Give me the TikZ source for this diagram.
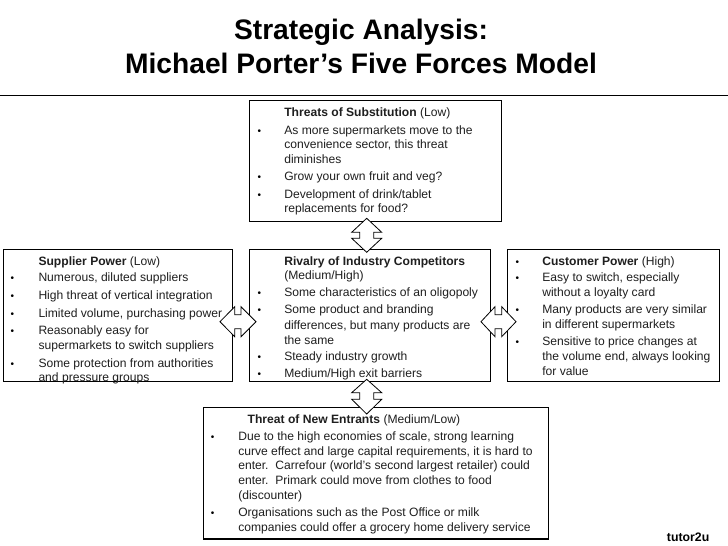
\documentclass[tikz,border=0pt]{standalone}
\usepackage{fontspec}
\setmainfont{Liberation Sans}
\newcounter{tlc}
\newcommand{\tl}[3]{\stepcounter{tlc}\node[txt] (t\arabic{tlc}) at (#1,#2) {#3};}
\newcommand{\bl}[2]{\stepcounter{tlc}\node[bul] (t\arabic{tlc}) at (#1,#2) {•};}
\tikzset{
  x=1pt,y=-1pt,
  box/.style={draw=black,line width=1.1pt,fill=white,inner sep=0pt,outer sep=0pt},
  txt/.style={anchor=base west,inner sep=0pt,outer sep=0pt,text=black!88,font=\fontsize{12.1}{14}\selectfont},
  bul/.style={anchor=base,inner sep=0pt,outer sep=0pt,text=black,font=\fontsize{10}{12}\selectfont},
  ttl/.style={anchor=base,inner sep=0pt,outer sep=0pt,text=black,font=\fontsize{28.2}{30}\selectfont\bfseries},
  blockarrow/.style={draw=black,line width=0.8pt,fill=white,line join=miter},
  rulestyle/.style={draw=black,line width=1.1pt}
}
\newcommand{\boxat}[5]{\node[box,minimum width=#4-#2,minimum height=#5-#3,anchor=north west] (#1) at (#2,#3) {};}
\newcommand{\varrow}[5]{% cx, ytop, headbase1, headbase2, ybot
  \draw[blockarrow] (#1,#2) -- (#1+15,#3) -- (#1+7,#3) -- (#1+7,#4) -- (#1+15,#4) -- (#1,#5) -- (#1-15,#4) -- (#1-7,#4) -- (#1-7,#3) -- (#1-15,#3) -- cycle;}
\newcommand{\harrow}[5]{% cy, xl, base1, base2, xr
  \draw[blockarrow] (#2,#1) -- (#3,#1-15) -- (#3,#1-7) -- (#4,#1-7) -- (#4,#1-15) -- (#5,#1) -- (#4,#1+15) -- (#4,#1+7) -- (#3,#1+7) -- (#3,#1+15) -- cycle;}
\begin{document}
\begin{tikzpicture}
\useasboundingbox (0,0) rectangle (728,546);
\fill[white] (0,0) rectangle (728,546);
\node[ttl] (title1) at (361,39.8) {Strategic Analysis:};
\node[ttl] (title2) at (361,73.2) {Michael Porter’s Five Forces Model};
\coordinate (ruleL) at (0,95.3);
\coordinate (ruleR) at (728,95.3);
\draw[rulestyle] (ruleL) -- (ruleR);

\boxat{subst}{249.5}{100.7}{501.7}{221.5}
\boxat{supplier}{3.5}{249.5}{232.5}{381.3}
\boxat{rivalry}{249.5}{249.5}{490.2}{381.3}
\boxat{customer}{507.5}{249.5}{719.5}{381.3}
\boxat{entrants}{203.3}{407.3}{548.5}{539}

% Threats of substitution
\tl{284.3}{116}{\textbf{Threats of Substitution} (Low)}
\bl{259.3}{134}\tl{284.3}{134}{As more supermarkets move to the}
\tl{284.3}{148}{convenience sector, this threat}
\tl{284.3}{163}{diminishes}
\bl{259.3}{180}\tl{284.3}{180}{Grow your own fruit and veg?}
\bl{259.3}{198}\tl{284.3}{198}{Development of drink/tablet}
\tl{284.3}{212}{replacements for food?}

% Supplier
\tl{38.5}{265}{\textbf{Supplier Power} (Low)}
\bl{12.5}{281.5}\tl{38.5}{281.5}{Numerous, diluted suppliers}
\bl{12.5}{299.5}\tl{38.5}{299.5}{High threat of vertical integration}
\bl{12.5}{317}\tl{38.5}{317}{Limited volume, purchasing power}
\bl{12.5}{334.5}\tl{38.5}{334.5}{Reasonably easy for}
\tl{38.5}{349}{supermarkets to switch suppliers}
\bl{12.5}{367}\tl{38.5}{367}{Some protection from authorities}
\tl{38.5}{381}{and pressure groups}

% Rivalry
\tl{284.3}{265}{\textbf{Rivalry of Industry Competitors}}
\tl{284.3}{279}{(Medium/High)}
\bl{259.3}{296.7}\tl{284.3}{296.7}{Some characteristics of an oligopoly}
\bl{259.3}{313.7}\tl{284.3}{313.7}{Some product and branding}
\tl{284.3}{329}{differences, but many products are}
\tl{284.3}{344}{the same}
\bl{259.3}{360.7}\tl{284.3}{360.7}{Steady industry growth}
\bl{259.3}{377.7}\tl{284.3}{377.7}{Medium/High exit barriers}

% Customer
\bl{517.3}{265}\tl{542.3}{265}{\textbf{Customer Power} (High)}
\bl{517.3}{281.7}\tl{542.3}{281.7}{Easy to switch, especially}
\tl{542.3}{296.7}{without a loyalty card}
\bl{517.3}{313.7}\tl{542.3}{313.7}{Many products are very similar}
\tl{542.3}{328.7}{in different supermarkets}
\bl{517.3}{345.7}\tl{542.3}{345.7}{Sensitive to price changes at}
\tl{542.3}{360.7}{the volume end, always looking}
\tl{542.3}{375.7}{for value}

% Entrants
\tl{247.7}{423}{\textbf{Threat of New Entrants} (Medium/Low)}
\bl{212.7}{440.7}\tl{238.3}{440.7}{Due to the high economies of scale, strong learning}
\tl{238.3}{455}{curve effect and large capital requirements, it is hard to}
\tl{238.3}{469.7}{enter.\ \ Carrefour (world’s second largest retailer) could}
\tl{238.3}{484}{enter.\ \ Primark could move from clothes to food}
\tl{238.3}{499}{(discounter)}
\bl{212.7}{516.3}\tl{238.3}{516.3}{Organisations such as the Post Office or milk}
\tl{238.3}{531.3}{companies could offer a grocery home delivery service}

\node[anchor=base west,inner sep=0pt,font=\fontsize{12.3}{14}\selectfont\bfseries] (brand) at (666.7,541.7) {tutor2u};

% Block arrows
\varrow{366.7}{218.3}{232.3}{238.3}{252.3}
\varrow{366.7}{379.3}{392.7}{399.3}{414}
\harrow{321.7}{220}{234.7}{241}{256}
\harrow{321.7}{481}{495}{501.7}{516}
\end{tikzpicture}
\end{document}
